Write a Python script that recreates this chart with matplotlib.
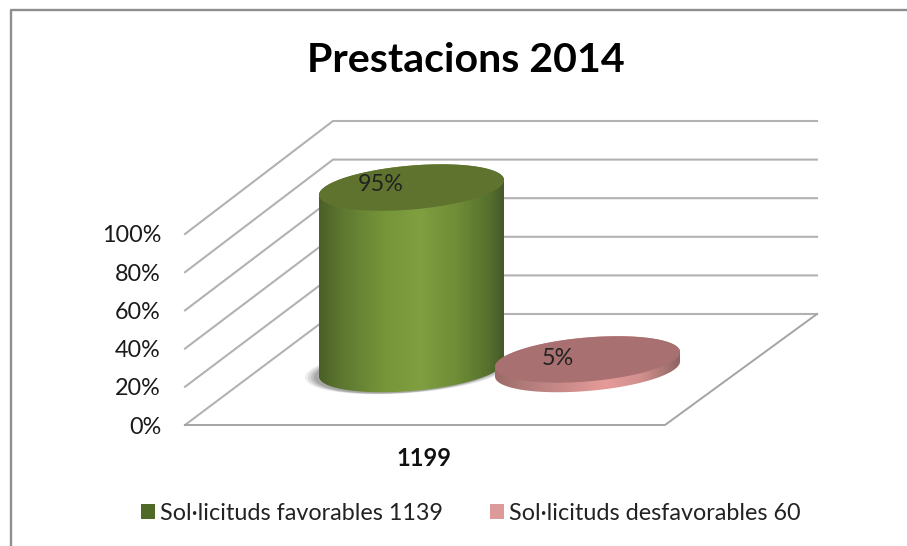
import numpy as np
import matplotlib
matplotlib.use("Agg")
import matplotlib.pyplot as plt
from matplotlib.colors import LinearSegmentedColormap
from matplotlib.patches import Polygon, Rectangle

title = "Prestacions 2014"
category = "1199"
series_names = ["Sol·licituds favorables 1139", "Sol·licituds desfavorables 60"]
series_pct = [95, 5]
pct_labels = ["95%", "5%"]
tick_values = [0, 20, 40, 60, 80, 100]
tick_labels = ["0%", "20%", "40%", "60%", "80%", "100%"]

plt.rcParams["font.family"] = ["Lato", "DejaVu Sans"]
fig = plt.figure(figsize=(9.07, 5.46), dpi=100, facecolor="white")
ax = fig.add_axes([0, 0, 1, 1])
ax.set_xlim(0, 907)
ax.set_ylim(546, 0)
ax.axis("off")

# frame (top and left edges visible)
ax.plot([11, 11, 907], [546, 10, 10], color="#8e8e8e", lw=1.7, zorder=1)

GRID = "#b2b2b2"
FLOOR_FRONT, FLOOR_BACK = 425, 314
S_FRONT, S_BACK = 1.91, 1.93
X_FL, X_BL, X_FR, X_BR = 185, 333, 665, 817
for v, lab in zip(tick_values, tick_labels):
    yf = FLOOR_FRONT - v * S_FRONT
    yb = FLOOR_BACK - v * S_BACK
    ax.plot([X_FL, X_BL, X_BR], [yf, yb, yb], color=GRID, lw=1.5, zorder=2,
            solid_joinstyle="miter")
    ax.text(161, yf + 2, lab, ha="right", va="center", fontsize=16.8, color="#1a1a1a")
ax.plot([X_FL, X_FR, X_BR], [FLOOR_FRONT, FLOOR_FRONT, FLOOR_BACK], color="#a4a4a4", lw=1.4, zorder=2)


def ellipse(cx, cy, a=92.5, tilt=7.5, h=22.0, t=None):
    if t is None:
        t = np.linspace(0, 2 * np.pi, 240)
    return cx + a * np.cos(t), cy - tilt * np.cos(t) - h * np.sin(t)


def cylinder(cx, base_y, value, side_cmap, top_color, scale=1.91, z=5):
    top_y = base_y - value * scale
    t = np.linspace(np.pi, 2 * np.pi, 120)
    bx, by = ellipse(cx, base_y, t=t)
    # side shape runs under the top face so no seam shows
    tx, ty = ellipse(cx, top_y, t=np.linspace(0, np.pi, 120))
    verts = np.column_stack([np.r_[bx, tx], np.r_[by, ty]])
    poly = Polygon(verts, closed=True, facecolor="none", edgecolor="none", zorder=z)
    ax.add_patch(poly)
    grad = np.linspace(0, 1, 256)[None, :]
    im = ax.imshow(grad, extent=[cx - 92.5, cx + 92.5, base_y + 30, top_y - 30],
                   cmap=side_cmap, aspect="auto", zorder=z, interpolation="bilinear")
    im.set_clip_path(poly)
    ex, ey = ellipse(cx, top_y)
    ax.fill(ex, ey, color=top_color, lw=0, zorder=z + 1)
    return top_y


green = LinearSegmentedColormap.from_list(
    "g", [(0, "#4b5f27"), (0.12, "#5d7730"), (0.35, "#769539"), (0.55, "#7f9f40"),
          (0.75, "#6f8c37"), (0.92, "#56702d"), (1, "#46592a")])
pink = LinearSegmentedColormap.from_list(
    "p", [(0, "#9c6a68"), (0.2, "#b57f7d"), (0.6, "#e69b99"), (0.8, "#cf8f8c"), (1, "#8f6462")])

BASE_Y = 369
CX = [411.5, 587.5]

# soft shadow left of / under the tall cylinder
for grow, alpha in zip([11, 8, 5, 2], [0.10, 0.14, 0.18, 0.22]):
    sx, sy = ellipse(CX[0] - 3, BASE_Y + 1, a=92.5 + grow, h=22.0 + grow * 0.1)
    ax.fill(sx, sy, color="#555555", alpha=alpha, lw=0, zorder=3)

top1 = cylinder(CX[0], BASE_Y, series_pct[0], green, "#5f732f", z=5)
top2 = cylinder(CX[1], BASE_Y, series_pct[1], pink, "#a87070", z=7)

ax.text(381, top1 - 3, pct_labels[0], ha="center", va="center", fontsize=16.8, color="#222222", zorder=10)
ax.text(557.5, top2 - 1, pct_labels[1], ha="center", va="center", fontsize=16.8, color="#222222", zorder=10)

ax.text(466, 60, title, ha="center", va="center", fontsize=29.6, fontweight="bold", color="black")
ax.text(424, 459, category, ha="center", va="center", fontsize=17, fontweight="bold", color="#111111")

handles = [Rectangle((0, 0), 1, 1, facecolor="#4f6a26", edgecolor="none"),
           Rectangle((0, 0), 1, 1, facecolor="#dd9a9a", edgecolor="none")]
leg = ax.legend(handles, series_names, loc="center", bbox_to_anchor=(471 / 907, 1 - 513 / 546),
                ncol=2, frameon=False, fontsize=16.8, handlelength=0.6, handleheight=0.6,
                handletextpad=0.22, columnspacing=2.0, borderpad=0, labelcolor="#222222")

fig.savefig("out.png", dpi=100)
